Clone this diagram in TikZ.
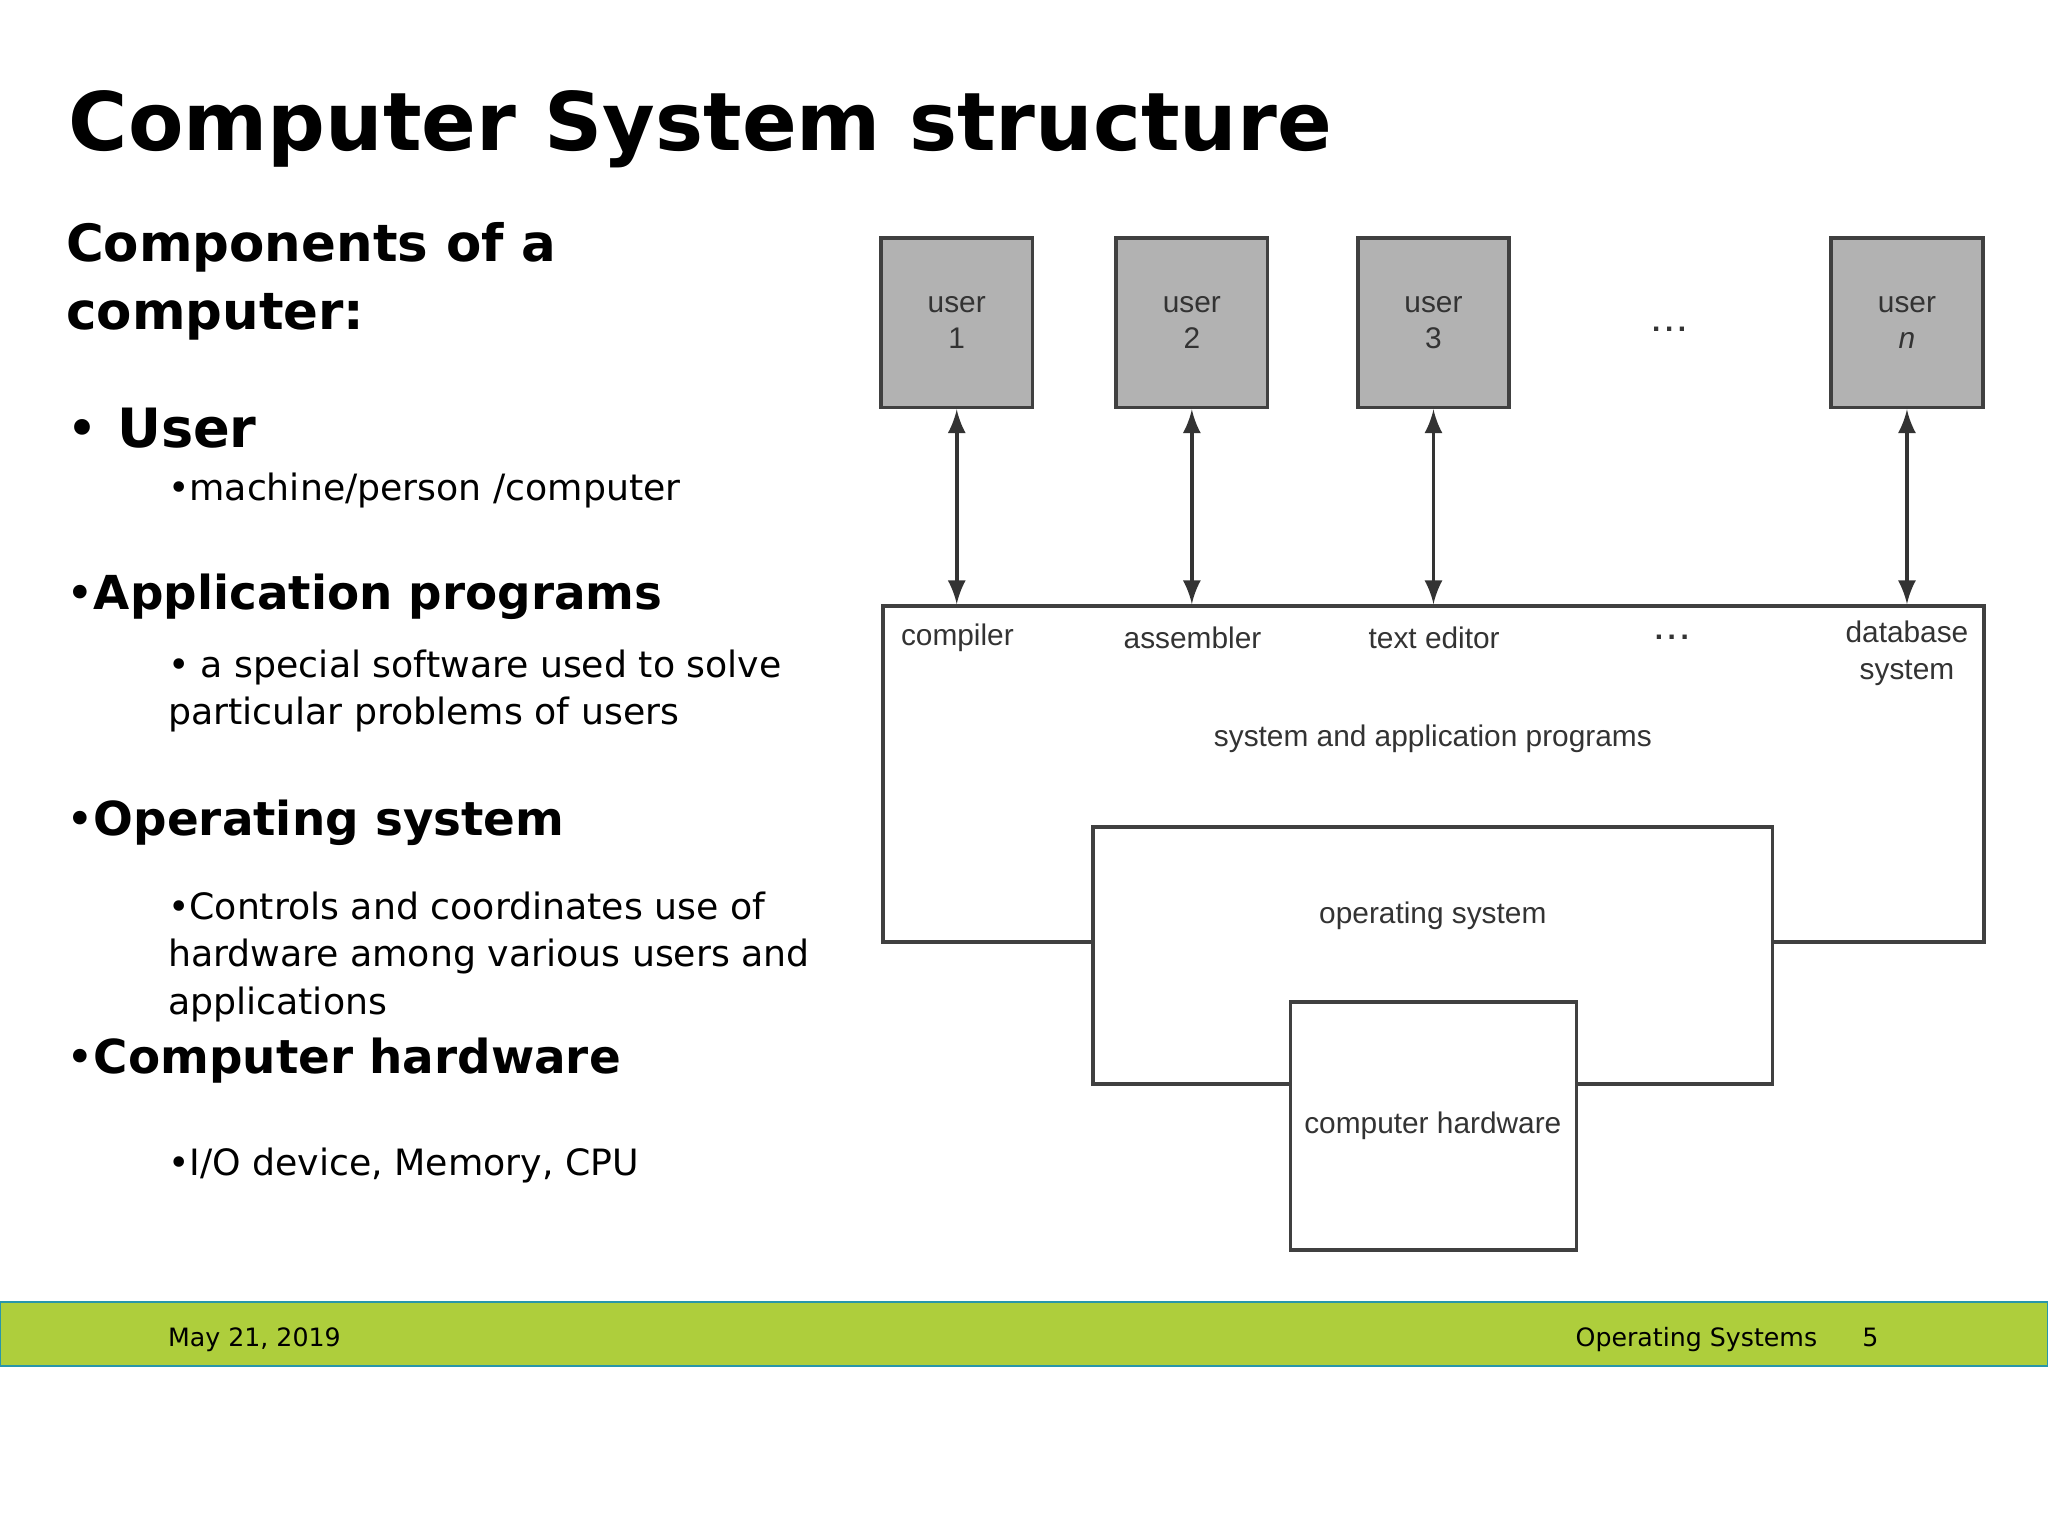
\documentclass[tikz,border=0pt]{standalone}
\usepackage{fontspec}
\setmainfont{DejaVu Sans}
\newfontfamily\diagfont{Liberation Sans}
\usetikzlibrary{arrows,positioning}
\definecolor{bargreen}{RGB}{174,206,60}
\definecolor{barline}{RGB}{40,150,170}
\begin{document}
\begin{tikzpicture}
    \useasboundingbox (0,0) rectangle (15.68,11.76);
    %Slide text
    \begin{scope}[every node/.style={anchor=base west,inner sep=0pt}]
      \node (title) at (0.52,10.61) {\fontsize{17.6}{22}\selectfont\bfseries Computer System structure};
      \node (comp1) at (0.50,9.76) {\fontsize{11.2}{15}\selectfont\bfseries Components of a};
      \node (comp2) at (0.50,9.24) {\fontsize{11.2}{15}\selectfont\bfseries computer:};
      \node (user) at (0.50,8.33) {\fontsize{11.8}{15}\selectfont\bfseries{\mdseries•} User};
      \node (userd) at (1.28,7.93) {\fontsize{7.9}{10}\selectfont •machine/person /computer};
      \node (app) at (0.50,7.09) {\fontsize{10.2}{14}\selectfont\bfseries{\mdseries•}Application programs};
      \node (appd1) at (1.28,6.57) {\fontsize{7.9}{10}\selectfont • a special software used to solve};
      \node (appd2) at (1.28,6.21) {\fontsize{7.9}{10}\selectfont particular problems of users};
      \node (os) at (0.50,5.36) {\fontsize{10.2}{14}\selectfont\bfseries{\mdseries•}Operating system};
      \node (osd1) at (1.28,4.72) {\fontsize{7.9}{10}\selectfont •Controls and coordinates use of};
      \node (osd2) at (1.28,4.36) {\fontsize{7.9}{10}\selectfont hardware among various users and};
      \node (osd3) at (1.28,3.99) {\fontsize{7.9}{10}\selectfont applications};
      \node (hw) at (0.50,3.54) {\fontsize{10.2}{14}\selectfont\bfseries{\mdseries•}Computer hardware};
      \node (hwd) at (1.28,2.76) {\fontsize{7.9}{10}\selectfont •I/O device, Memory, CPU};
    \end{scope}

    %Footer
    \fill[bargreen] (0,1.30) rectangle (15.68,1.79);
    \draw[barline,thin] (0,1.30) rectangle (15.68,1.79);
    \begin{scope}[every node/.style={anchor=base,inner sep=0pt,font=\fontsize{5.5}{8}\selectfont}]
      \node[anchor=base west] (date) at (1.28,1.45) {May 21, 2019};
      \node[anchor=base east] (course) at (13.92,1.45) {Operating Systems};
      \node (page) at (14.32,1.45) {5};
    \end{scope}

    %Layers
    \begin{scope}[every node/.style={draw=black!75,thick,fill=white,inner sep=0pt}]
      \node[minimum width=8.43cm,minimum height=2.57cm] (progs) at (10.975,5.835) {};
      \node[minimum width=5.20cm,minimum height=1.97cm] (opsys) at (10.97,4.445) {};
      \node[minimum width=2.19cm,minimum height=1.90cm] (hard) at (10.975,3.14) {};
    \end{scope}

    %Users
    \begin{scope}[every node/.style={draw=black!75,thick,fill=black!30,align=center,
        minimum width=1.16cm,minimum height=1.30cm,inner sep=0pt,
        font=\diagfont\fontsize{6.5}{8}\selectfont\color{black!80}}]
      \node (u1) at (7.325,9.29) {user\\1};
      \node (u2) at (9.125,9.29) {user\\2};
      \node (u3) at (10.975,9.29) {user\\3};
      \node (un) at (14.60,9.29) {user\\\textit{n}};
    \end{scope}

    \begin{scope}[every node/.style={inner sep=0pt,align=center,
        font=\diagfont\fontsize{6.5}{8}\selectfont\color{black!80}}]
      \node (dots1) at (12.78,9.24) {\textbf{.\kern1pt.\kern1pt.}};
      \node (cmp) at (7.33,6.88) {compiler};
      \node (asm) at (9.13,6.88) {assembler};
      \node (ted) at (10.98,6.88) {text editor};
      \node (dots2) at (12.80,6.88) {\textbf{.\kern1pt.\kern1pt.}};
      \node (dbs) at (14.60,6.76) {database\\system};
      \node (sap) at (10.97,6.10) {system and application programs};
      \node (osl) at (10.97,4.75) {operating system};
      \node (hwl) at (10.97,3.14) {computer hardware};
    \end{scope}

    \begin{scope}[every path/.style={draw=black!80,thick,<->,>=latex}]
      \path (u1) -- (u1 |- progs.north);
      \path (u2) -- (u2 |- progs.north);
      \path (u3) -- (u3 |- progs.north);
      \path (un) -- (un |- progs.north);
    \end{scope}
  \end{tikzpicture}
\end{document}
